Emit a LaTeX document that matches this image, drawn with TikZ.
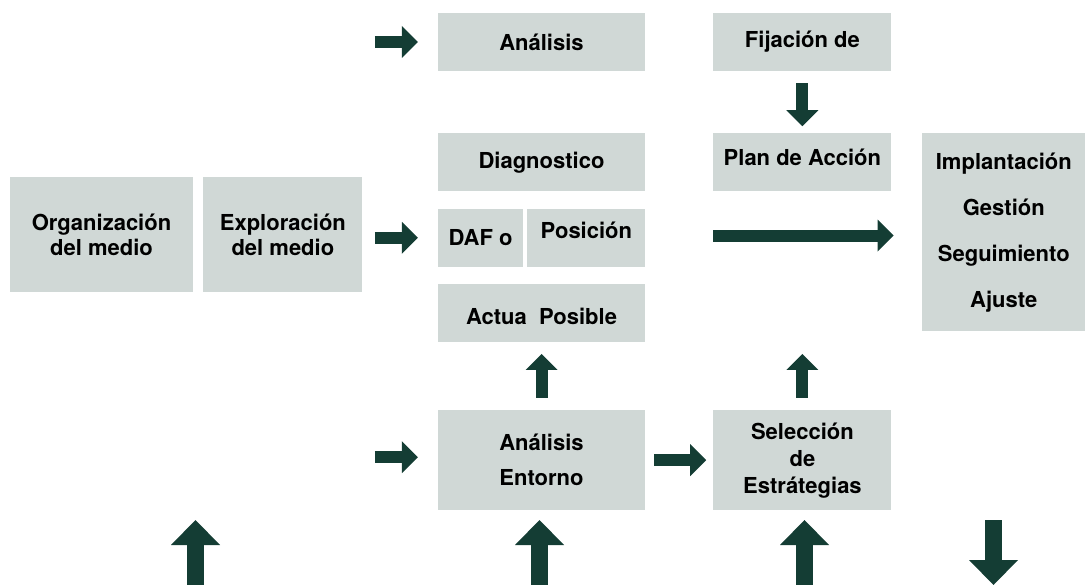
\documentclass[tikz,border=0pt]{standalone}
\usepackage{fontspec}
\setmainfont{TeX Gyre Heros}
\usetikzlibrary{arrows.meta, positioning}

\definecolor{boxgray}{RGB}{208,216,214}
\definecolor{arrowgreen}{RGB}{20,61,52}

\begin{document}
\begin{tikzpicture}[
    x=1pt, y=1pt,
    node distance=10pt,
    box/.style={rectangle, fill=boxgray, inner sep=0pt, align=center, font=\fontsize{22}{26}\selectfont\bfseries},
    arrow/.style={draw=arrowgreen, line width=12pt, -{Triangle[width=32pt, length=16pt, line width=0pt]}},
    bigarrow/.style={draw=arrowgreen, line width=17pt, -{Triangle[width=49pt, length=25pt, line width=0pt]}}
]
\useasboundingbox (0,0) rectangle (1085,-585);

% Left blocks
\node[box, minimum width=183pt, minimum height=115pt] (org) at (101.5,-234.5) {Organización\\[-1pt]del medio};
\node[box, minimum width=159pt, minimum height=115pt, right=10pt of org] (explo) {Exploración\\[-1pt]del medio};

% Middle column
\node[box, minimum width=207pt, minimum height=58pt] (analisis) at (541.5,-42) {Análisis};
\node[box, minimum width=207pt, minimum height=58pt, below=62pt of analisis] (diag) {Diagnostico};
\node[box, minimum width=85pt, minimum height=58pt, below right=17pt and 0pt of diag.south west] (daf) {DAF o};
\node[box, minimum width=118pt, minimum height=58pt, text height=2pt, right=4pt of daf] (posicion) {Posición};
\node[box, minimum width=207pt, minimum height=58pt, text height=24pt, below=92pt of diag] (actua) {Actua\ \ Posible};
\node[box, minimum width=207pt, minimum height=100pt, below=68pt of actua] (entorno) {Análisis\\[9pt]Entorno};

% Right column
\node[box, minimum width=178pt, minimum height=58pt, right=68pt of analisis] (fijacion) {Fijación de};
\node[box, minimum width=178pt, minimum height=58pt, text height=6pt, below=62pt of fijacion] (plan) {Plan de Acción};
\node[box, minimum width=178pt, minimum height=100pt, right=68pt of entorno] (seleccion) {Selección\\[1pt]de\\[1pt]Estrátegias};
\node[box, minimum width=164pt, minimum height=198pt, below right=0pt and 30pt of plan.north east] (implant) {Implantación\\[20pt]Gestión\\[20pt]Seguimiento\\[20pt]Ajuste};

% Arrows
\draw[arrow] ([xshift=-63pt]analisis.west) -- ([xshift=-20pt]analisis.west);
\draw[arrow] ([xshift=-63pt]daf.west) -- ([xshift=-20pt]daf.west);
\draw[arrow] ([xshift=-63pt,yshift=3pt]entorno.west) -- ([xshift=-20pt,yshift=3pt]entorno.west);
\draw[arrow] ([xshift=9pt]entorno.east) -- ([xshift=-7pt]seleccion.west);
\draw[arrow] ([yshift=-12pt]fijacion.south) -- ([yshift=7pt]plan.north);
\draw[arrow] ([yshift=-44pt]plan.south west) -- ([xshift=2pt,yshift=-44pt]plan.south east);
\draw[arrow] ([yshift=12pt]entorno.north) -- ([yshift=-12pt]actua.south);
\draw[arrow] ([yshift=12pt]seleccion.north) -- ([yshift=56pt]seleccion.north);

% Bottom arrows
\coordinate (in1) at (195.5,-585);
\coordinate (in2) at (539.5,-585);
\coordinate (in3) at (804.5,-585);
\coordinate (out0) at (993.5,-520);
\coordinate (out1) at (993.5,-585);
\draw[bigarrow] (in1) -- ++(0,65);
\draw[bigarrow] (in2) -- ++(0,65);
\draw[bigarrow] (in3) -- ++(0,65);
\draw[bigarrow] (out0) -- (out1);

\end{tikzpicture}
\end{document}
